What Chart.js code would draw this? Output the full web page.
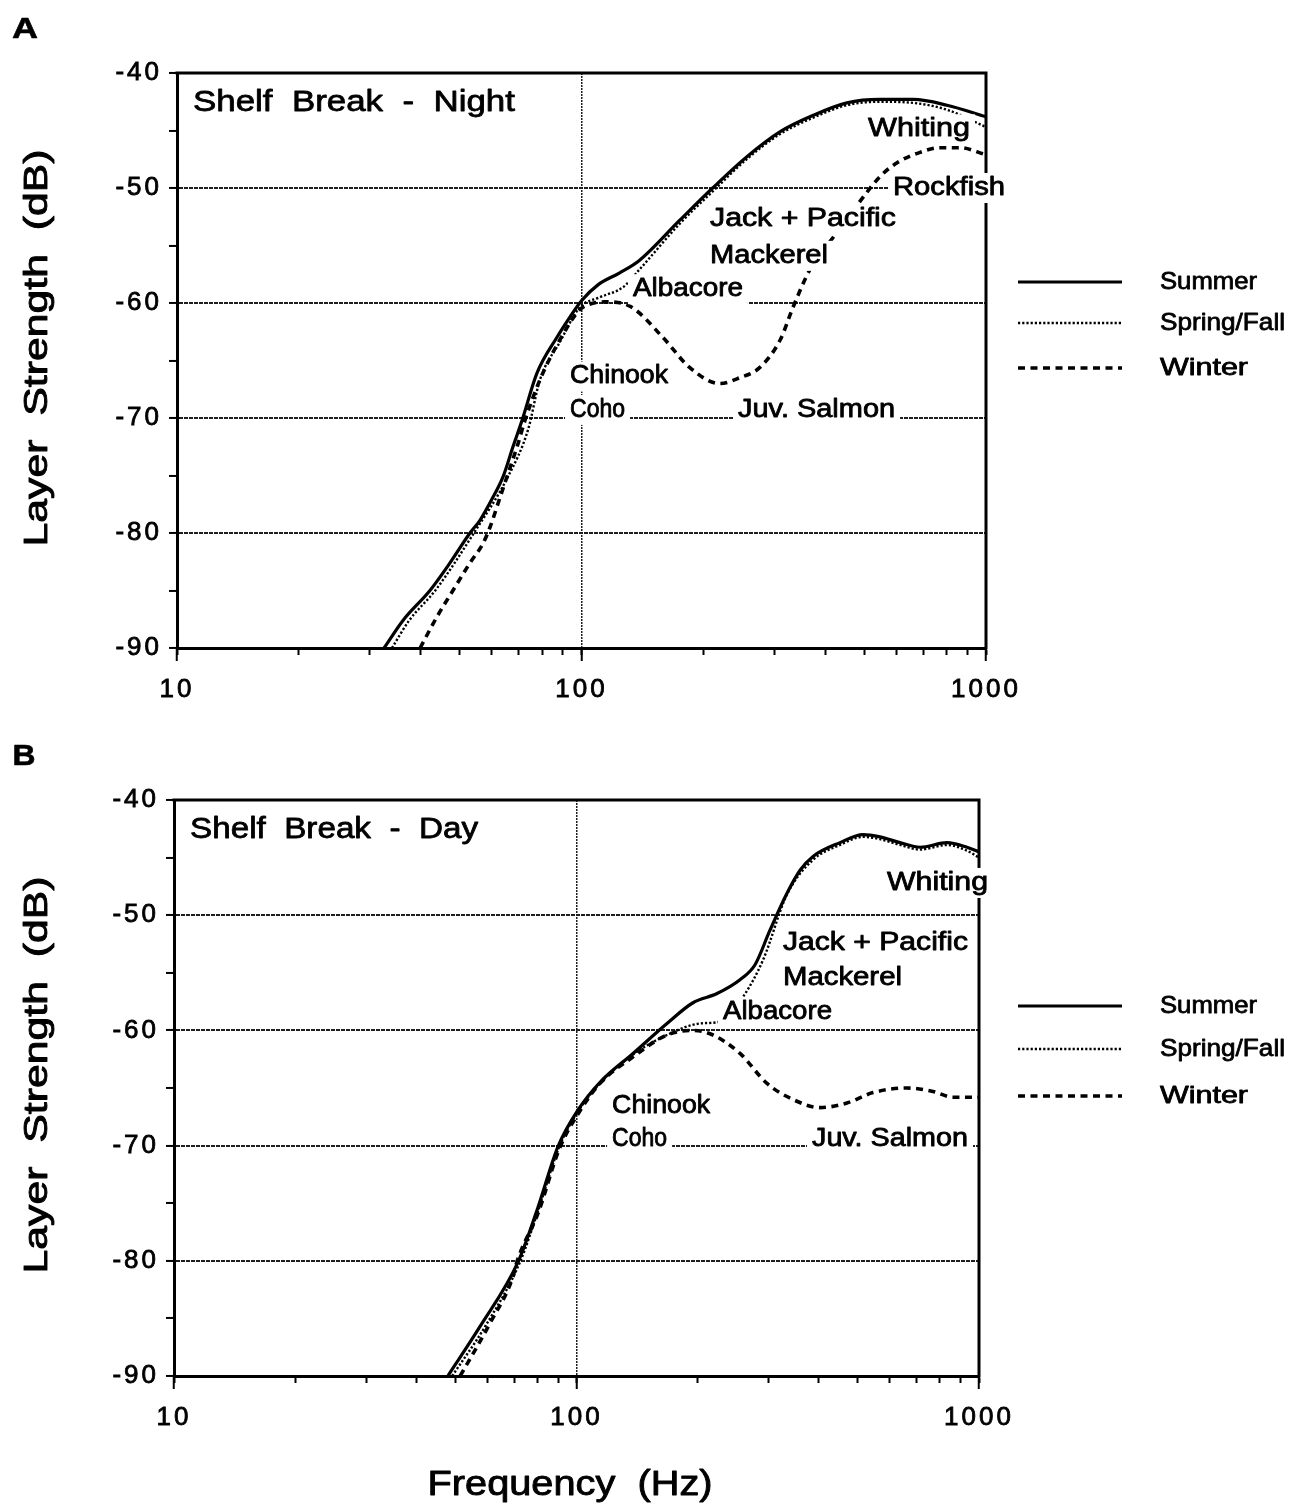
<!DOCTYPE html>
<html>
<head>
<meta charset="utf-8">
<title>Layer Strength vs Frequency — Shelf Break</title>
<script src="https://cdn.jsdelivr.net/npm/chart.js@4.4.1/dist/chart.umd.min.js"></script>
<style>
  html, body { margin: 0; padding: 0; background: #fff; }
  #page { position: relative; width: 1307px; height: 1508px; overflow: hidden; background: #fff; }
  .panel { position: absolute; left: 0; }
  canvas { display: block; }
</style>
</head>
<body>
<div id="page">
  <div class="panel" style="top:0px"><canvas id="night" width="1307" height="740"></canvas></div>
  <div class="panel" style="top:740px"><canvas id="day" width="1307" height="768"></canvas></div>
</div>
<script>
// ---- Series: frequency (Hz) and layer strength (dB) ----
// Panel A: shelf break, night
const nightSummerHz = [32.5, 36.2, 42.2, 47.3, 53.0, 56.1, 60.4, 64.0, 67.7, 71.3, 77.6, 86.9, 93.7, 100, 110, 124, 139, 175, 211, 256, 310, 373, 453, 547, 661, 801, 1000];
const nightSummerDb = [-90, -87.6, -85.0, -82.6, -80.0, -78.9, -76.9, -75.1, -72.5, -70.2, -66.1, -63.0, -61.2, -59.8, -58.4, -57.4, -56.3, -52.8, -50.0, -47.3, -45.1, -43.7, -42.6, -42.3, -42.3, -42.8, -43.8];

const nightSpringFallHz = [34, 37.5, 43.5, 54.2, 65.8, 73.8, 78.9, 88.4, 98.9, 111, 127, 139, 175, 211, 256, 310, 373, 453, 547, 661, 801, 1000];
const nightSpringFallDb = [-90, -87.6, -85.0, -80.0, -75.1, -71.0, -66.7, -63.4, -60.4, -59.5, -58.6, -57.1, -53.1, -50.3, -47.5, -45.3, -43.9, -42.8, -42.5, -42.6, -43.2, -44.7];

const nightWinterHz = [39.9, 43.9, 48.1, 53.0, 57.1, 59.4, 62.9, 66.6, 69.3, 72.5, 78.9, 88.4, 98.9, 103, 114, 132, 159, 185, 220, 246, 276, 310, 334, 367, 423, 497, 547, 603, 687, 770, 863, 1000];
const nightWinterDb = [-90, -87.3, -85.0, -82.6, -80.9, -79.5, -76.9, -74.3, -72.5, -70.2, -66.7, -63.2, -60.6, -60.2, -59.9, -60.3, -63.0, -65.6, -67.0, -66.5, -65.6, -63.2, -60.3, -57.1, -54.1, -50.8, -49.0, -47.8, -46.9, -46.5, -46.5, -47.1];

// Panel B: shelf break, day
const daySummerHz = [47.9, 57.6, 71.6, 79.8, 89.9, 100.9, 114.4, 138.2, 167.8, 194.7, 223.4, 254.8, 277.7, 302.5, 333.4, 359.3, 386.9, 451.6, 515, 567.6, 636.5, 713.8, 832.7, 933.7, 1000];
const daySummerDb = [-90, -85.7, -80.1, -75.6, -70.1, -66.9, -64.5, -62.0, -59.4, -57.6, -56.8, -55.6, -54.3, -51.3, -48.1, -46.1, -44.9, -43.7, -43.0, -43.2, -43.7, -44.1, -43.7, -44.1, -44.5];

const daySpringFallHz = [49.1, 59.3, 72.4, 80.4, 90.6, 101.5, 114.4, 138.2, 167.8, 202.7, 229.9, 259.2, 290.6, 333.4, 386.9, 451.6, 515, 567.6, 636.5, 713.8, 832.7, 933.7, 1000];
const daySpringFallDb = [-90, -85.7, -80.1, -75.6, -70.1, -66.9, -64.6, -62.1, -60.4, -59.4, -59.2, -57.1, -53.9, -48.2, -45.2, -43.9, -43.2, -43.4, -43.9, -44.3, -43.9, -44.4, -45.0];

const dayWinterHz = [51.4, 61.0, 69.5, 71.1, 80.4, 90.6, 101.5, 114.4, 138.2, 167.8, 194.7, 218.3, 254.8, 297.3, 345.1, 402.7, 469.9, 545.2, 662.3, 768.6, 861.6, 1000];
const dayWinterDb = [-90, -85.4, -81.4, -80.1, -75.8, -70.3, -67.1, -64.6, -62.3, -60.4, -60.0, -60.4, -62.0, -64.6, -66.0, -66.7, -66.3, -65.4, -65.0, -65.3, -65.8, -65.8];

// ---- Axis ticks and labels ----
const seasonNames = ['Summer', 'Spring/Fall', 'Winter'];
const freqTicks = [10, 20, 30, 40, 50, 60, 70, 80, 90, 100, 200, 300, 400, 500, 600, 700, 800, 900, 1000];
const freqDecades = [10, 100, 1000];
const dbTicks = [-90, -85, -80, -75, -70, -65, -60, -55, -50, -45, -40];
const xTitle = 'Frequency  (Hz)';
const yTitle = 'Layer  Strength  (dB)';

// ---- Species annotations (text anchored at frequency / level) ----
const nightNotes = [
  { text: 'Shelf  Break  -  Night', hz: 10.95, db: -42.6, size: 30, w: 322, box: false },
  { text: 'Whiting', hz: 511, db: -44.9, size: 25, w: 102, box: true },
  { text: 'Rockfish', hz: 589, db: -50.0, size: 25, w: 112, box: true },
  { text: 'Jack + Pacific', hz: 207.8, db: -52.7, size: 25, w: 186, box: true },
  { text: 'Mackerel', hz: 207.8, db: -55.9, size: 25, w: 118, box: true },
  { text: 'Albacore', hz: 134, db: -58.8, size: 25, w: 110, box: true },
  { text: 'Chinook', hz: 93.7, db: -66.4, size: 25, w: 98, box: true },
  { text: 'Coho', hz: 93.7, db: -69.3, size: 25, w: 55, box: true },
  { text: 'Juv. Salmon', hz: 243.8, db: -69.3, size: 25, w: 157, box: true }
];
const dayNotes = [
  { text: 'Shelf  Break  -  Day', hz: 10.96, db: -42.6, size: 30, w: 288, box: false },
  { text: 'Whiting', hz: 590.8, db: -47.2, size: 25, w: 101, box: true },
  { text: 'Jack + Pacific', hz: 325.8, db: -52.4, size: 25, w: 185, box: true },
  { text: 'Mackerel', hz: 325.8, db: -55.5, size: 25, w: 119, box: true },
  { text: 'Albacore', hz: 231.2, db: -58.4, size: 25, w: 109, box: true },
  { text: 'Chinook', hz: 122.6, db: -66.6, size: 25, w: 98, box: true },
  { text: 'Coho', hz: 122.6, db: -69.4, size: 25, w: 55, box: true },
  { text: 'Juv. Salmon', hz: 384.7, db: -69.4, size: 25, w: 156, box: true }
];

// ---- Styling ----
const FONT = '"Liberation Sans", Arial, Helvetica, sans-serif';
const INK = '#000';
const GRID = '#1e1e1e';
const seasonStyles = [
  { width: 3.2, dash: [] },
  { width: 2.4, dash: [2.2, 2] },
  { width: 3.6, dash: [7, 5.5] }
];

function toPoints(hz, db) {
  return hz.map((f, i) => ({ x: f, y: db[i] }));
}

// Text drawn at a given size, stretched along its run to a set width.
function drawFitted(ctx, text, x, y, size, width, opt) {
  opt = opt || {};
  ctx.save();
  ctx.letterSpacing = '0px';
  ctx.font = (opt.bold ? 'bold ' : '') + size + 'px ' + FONT;
  const natural = ctx.measureText(text).width;
  const sx = width ? width / natural : 1;
  ctx.translate(x, y);
  if (opt.rotate) ctx.rotate(-Math.PI / 2);
  ctx.scale(sx, 1);
  ctx.textAlign = opt.align || 'left';
  ctx.textBaseline = 'middle';
  ctx.fillStyle = INK;
  ctx.strokeStyle = INK;
  ctx.lineWidth = opt.stroke === undefined ? 0.8 : opt.stroke;
  ctx.lineJoin = 'round';
  ctx.fillText(text, 0, 0);
  if (ctx.lineWidth > 0) ctx.strokeText(text, 0, 0);
  ctx.restore();
}

function makePanel(canvasId, geo, series, notes, extras) {
  const canvas = document.getElementById(canvasId);
  const W = canvas.width, H = canvas.height;

  const datasets = series.map((s, i) => ({
    label: seasonNames[i],
    data: toPoints(s.hz, s.db),
    borderColor: INK,
    borderWidth: seasonStyles[i].width,
    borderDash: seasonStyles[i].dash,
    borderCapStyle: 'butt',
    pointRadius: 0,
    fill: false,
    cubicInterpolationMode: 'monotone',
    xAxisID: 'x',
    yAxisID: 'y'
  }));

  const tickSpacing = {
    id: 'tickSpacing',
    beforeDraw(chart) { chart.ctx.letterSpacing = '3px'; }
  };

  const frame = {
    id: 'frame',
    afterDatasetsDraw(chart) {
      const { ctx, chartArea: a } = chart;
      ctx.save();
      ctx.strokeStyle = INK;
      ctx.lineWidth = 3;
      ctx.beginPath();
      ctx.moveTo(a.left - 1.5, a.top);
      ctx.lineTo(a.right, a.top);
      ctx.lineTo(a.right, a.bottom + 1.5);
      ctx.stroke();
      ctx.restore();
    }
  };

  const annotations = {
    id: 'annotations',
    afterDraw(chart) {
      const { ctx } = chart;
      const xs = chart.scales.x, ys = chart.scales.y;
      ctx.save();
      ctx.letterSpacing = '0px';
      for (const n of notes) {
        const px = xs.getPixelForValue(n.hz);
        const py = ys.getPixelForValue(n.db);
        if (n.box) {
          ctx.fillStyle = '#fff';
          ctx.fillRect(px - 5, py - 15, n.w + 10, 30);
        }
        drawFitted(ctx, n.text, px, py, n.size, n.w);
      }
      // legend
      extras.legendRows.forEach((ry, i) => {
        ctx.save();
        ctx.strokeStyle = INK;
        ctx.lineWidth = seasonStyles[i].width;
        ctx.setLineDash(seasonStyles[i].dash);
        ctx.beginPath();
        ctx.moveTo(1018, ry);
        ctx.lineTo(1122, ry);
        ctx.stroke();
        ctx.restore();
        drawFitted(ctx, seasonNames[i], 1160, ry, 24, extras.legendWidths[i]);
      });
      // panel letter
      drawFitted(ctx, extras.letter, extras.letterPos[0], extras.letterPos[1], 30, extras.letterW, { bold: true, align: 'center', stroke: 0.6 });
      // y title
      drawFitted(ctx, yTitle, 38, extras.yTitleY, 33, 397, { rotate: true, align: 'center', stroke: 0.9 });
      if (extras.xTitleY) {
        drawFitted(ctx, xTitle, 570, extras.xTitleY, 35, 285, { align: 'center', stroke: 0.9 });
      }
      ctx.restore();
    }
  };

  const tickFont = { family: FONT, size: 26 };

  return new Chart(canvas, {
    type: 'line',
    data: { datasets },
    options: {
      responsive: false,
      devicePixelRatio: 1,
      animation: false,
      events: [],
      layout: { padding: { left: 0, top: geo.top, right: W - geo.right, bottom: 0 } },
      plugins: { legend: { display: false }, tooltip: { enabled: false }, title: { display: false } },
      scales: {
        decades: {
          type: 'logarithmic',
          position: 'bottom',
          axis: 'x',
          weight: -1,
          min: 10, max: 1000,
          afterBuildTicks: s => { s.ticks = freqDecades.map(v => ({ value: v })); },
          afterFit: s => { s.height = 0; },
          border: { display: false, dash: [2, 1] },
          grid: {
            drawOnChartArea: true,
            color: c => (c.tick && c.tick.value === 100) ? GRID : 'rgba(0,0,0,0)',
            lineWidth: 1.5,
            tickColor: INK,
            tickWidth: 2,
            tickLength: 13
          },
          ticks: { display: false }
        },
        x: {
          type: 'logarithmic',
          position: 'bottom',
          weight: 0,
          min: 10, max: 1000,
          afterBuildTicks: s => { s.ticks = freqTicks.map(v => ({ value: v })); },
          afterFit: s => { s.height = H - geo.bottom; },
          border: { display: true, color: INK, width: 3 },
          grid: { drawOnChartArea: false, color: INK, tickColor: INK, tickWidth: 2, tickLength: 7 },
          ticks: {
            autoSkip: false, maxRotation: 0, minRotation: 0,
            color: INK, padding: 19,
            font: tickFont,
            textStrokeColor: INK, textStrokeWidth: 0.8,
            callback: v => freqDecades.includes(v) ? String(v) : ''
          }
        },
        y: {
          type: 'linear',
          position: 'left',
          min: -90, max: -40,
          afterBuildTicks: s => { s.ticks = dbTicks.map(v => ({ value: v })); },
          afterFit: s => { s.width = geo.left; },
          border: { display: true, color: INK, width: 3, dash: [4, 1] },
          grid: {
            drawOnChartArea: true,
            color: c => {
              const v = c.tick ? c.tick.value : null;
              return (v !== null && v % 10 === 0 && v > -90 && v < -40) ? GRID : 'rgba(0,0,0,0)';
            },
            lineWidth: 1.9,
            tickColor: INK,
            tickWidth: 2,
            tickLength: 8
          },
          ticks: {
            color: INK, padding: 7,
            font: tickFont,
            textStrokeColor: INK, textStrokeWidth: 0.8,
            callback: v => (v % 10 === 0) ? String(v) : ''
          }
        }
      }
    },
    plugins: [tickSpacing, frame, annotations]
  });
}

makePanel('night',
  { left: 177, right: 986, top: 73, bottom: 648 },
  [
    { hz: nightSummerHz, db: nightSummerDb },
    { hz: nightSpringFallHz, db: nightSpringFallDb },
    { hz: nightWinterHz, db: nightWinterDb }
  ],
  nightNotes,
  { legendRows: [282, 323, 368], legendWidths: [97, 125, 88], letter: 'A', letterPos: [25, 30], letterW: 26, yTitleY: 348, xTitleY: null }
);

makePanel('day',
  { left: 174, right: 979, top: 60, bottom: 636 },
  [
    { hz: daySummerHz, db: daySummerDb },
    { hz: daySpringFallHz, db: daySpringFallDb },
    { hz: dayWinterHz, db: dayWinterDb }
  ],
  dayNotes,
  { legendRows: [266, 309, 356], legendWidths: [97, 125, 88], letter: 'B', letterPos: [24, 17], letterW: 23, yTitleY: 335, xTitleY: 745 }
);
</script>
</body>
</html>
